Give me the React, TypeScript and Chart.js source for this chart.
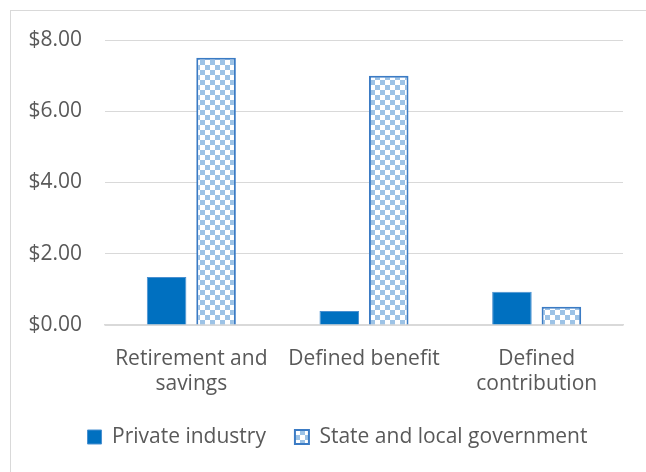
import React, { useEffect, useRef } from "react";
import { Chart, registerables } from "chart.js";

Chart.register(...registerables);

const categories: string[][] = [["Retirement and", "savings"], ["Defined benefit"], ["Defined", "contribution"]];
const seriesNames = ["Private industry", "State and local government"];
const privateIndustry = [1.35, 0.39, 0.93];
const stateLocal = [7.5, 7.0, 0.51];
const yMin = 0;
const yMax = 8;
const yStep = 2;

function makePattern(): CanvasPattern | string {
  const c = document.createElement("canvas");
  c.width = 10;
  c.height = 10;
  const g = c.getContext("2d");
  if (!g) return "#9DC3E6";
  g.fillStyle = "#ffffff";
  g.fillRect(0, 0, 10, 10);
  g.fillStyle = "#9DC3E6";
  g.fillRect(0, 0, 5, 5);
  g.fillRect(5, 5, 5, 5);
  const p = g.createPattern(c, "repeat");
  return p || "#9DC3E6";
}

const framePlugin = {
  id: "frame",
  beforeDraw(chart: any) {
    const ctx = chart.ctx;
    ctx.save();
    ctx.fillStyle = "#ffffff";
    ctx.fillRect(0, 0, chart.width, chart.height);
    ctx.strokeStyle = "#D9D9D9";
    ctx.lineWidth = 1;
    ctx.strokeRect(10.5, 10.5, chart.width + 100, chart.height + 100);
    ctx.restore();
  },
};

const legendShiftPlugin = {
  id: "legendShift",
  afterLayout(chart: any) {
    if (chart.legend) {
      chart.legend.left += 12;
      chart.legend.right += 12;
    }
  },
};

export default function App() {
  const ref = useRef<HTMLCanvasElement | null>(null);
  useEffect(() => {
    if (!ref.current) return;
    const pattern = makePattern();
    const font = { family: "'Open Sans', sans-serif", size: 21, lineHeight: 1.2 };
    const chart = new Chart(ref.current, {
      type: "bar",
      data: {
        labels: categories as any,
        datasets: [
          {
            label: seriesNames[0],
            data: privateIndustry,
            backgroundColor: "#0070C0",
            borderColor: "#4A90D0",
            borderWidth: 1,
            categoryPercentage: 0.573,
            barPercentage: 0.8,
          },
          {
            label: seriesNames[1],
            data: stateLocal,
            backgroundColor: pattern as any,
            borderColor: "#3B7BC4",
            borderWidth: 2,
            categoryPercentage: 0.573,
            barPercentage: 0.8,
          },
        ],
      },
      options: {
        animation: false,
        responsive: false,
        maintainAspectRatio: false,
        layout: { padding: { left: 28, right: 23, top: 40, bottom: 14.5 } },
        plugins: {
          legend: {
            position: "bottom",
            labels: {
              color: "#595959",
              font: font as any,
              boxWidth: 14,
              boxHeight: 14,
              padding: 29,
            },
          },
          tooltip: { enabled: false },
        },
        scales: {
          x: {
            grid: { display: false },
            border: { display: true, color: "#D9D9D9", width: 1.5 },
            ticks: { color: "#595959", font: font as any, padding: 13, maxRotation: 0, autoSkip: false },
            afterFit: (s: any) => {
              s.height = 72.5;
            },
          },
          y: {
            min: yMin,
            max: yMax,
            grid: { color: "#D9D9D9", drawTicks: false, lineWidth: 1 },
            border: { display: false },
            ticks: {
              stepSize: yStep,
              color: "#595959",
              font: font as any,
              padding: 23,
              callback: (v: any) => "$" + Number(v).toFixed(2),
            },
            afterFit: (s: any) => {
              s.width = 77;
            },
          },
        },
      },
      plugins: [framePlugin, legendShiftPlugin],
    });
    return () => chart.destroy();
  }, []);
  return (
    <div style={{ position: "absolute", left: 0, top: 0, width: 646, height: 472 }}>
      <canvas ref={ref} width={646} height={472} style={{ width: 646, height: 472 }} />
    </div>
  );
}
